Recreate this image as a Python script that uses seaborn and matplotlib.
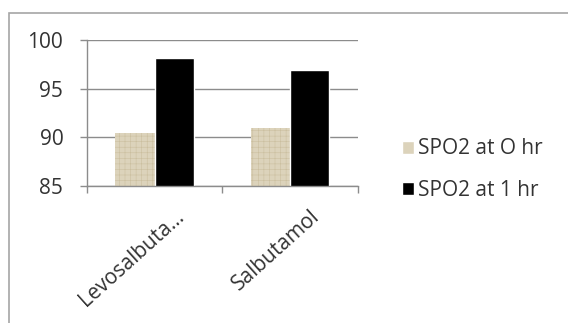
import matplotlib
matplotlib.use('Agg')
import matplotlib.pyplot as plt
import matplotlib.patches as mpatches
import matplotlib.transforms as mtransforms
import pandas as pd
import seaborn as sns

'''
Data read off the reference
'''
drugs = ['Levosalbuta...', 'Salbutamol']
series = ['SPO2 at O hr', 'SPO2 at 1 hr']
spo2_0hr = [90.4, 91.0]
spo2_1hr = [98.15, 96.9]
yTicks = [85, 90, 95, 100]

df = pd.DataFrame({
    'drug': drugs * 2,
    'series': [series[0]] * len(drugs) + [series[1]] * len(drugs),
    'value': spo2_0hr + spo2_1hr,
})

sns.set_style('white')
plt.rcParams['font.family'] = ['Open Sans', 'DejaVu Sans']
plt.rcParams['hatch.linewidth'] = 0.4

fig = plt.figure(figsize=(5.68, 3.23), dpi=100)
ax = fig.add_axes([0.153, 0.424, 0.477, 0.452])

sns.barplot(
    data = df,
    x = 'drug',
    y = 'value',
    hue = 'series',
    palette = ['#dcd3bb', '#000000'],
    width = 0.58,
    saturation = 1,
    errorbar = None,
    ax = ax
)

# beige bars get a faint checkered texture
for bar in ax.containers[0]:
    bar.set_hatch('+++')
    bar.set_edgecolor('#cbbf9f')
    bar.set_linewidth(0)

ax.set_ylim(85, 100)
ax.set_yticks(yTicks)
ax.set_xlim(-0.5, 1.5)
ax.yaxis.grid(True, color='#8c8c8c', linewidth=1)
ax.set_axisbelow(True)
ax.set_xlabel('')
ax.set_ylabel('')

for side in ['top', 'right']:
    ax.spines[side].set_visible(False)
for side in ['left', 'bottom']:
    ax.spines[side].set_color('#8c8c8c')
    ax.spines[side].set_linewidth(1)

ax.tick_params(axis='y', labelsize=15, colors='#8c8c8c', labelcolor='#333333',
               length=5, width=1, direction='out', left=True, pad=12)
ax.tick_params(axis='x', bottom=False)
# category divider ticks
ax.set_xticks([-0.5, 0.5, 1.5], minor=True)
ax.tick_params(axis='x', which='minor', bottom=True, length=5, width=1,
               colors='#8c8c8c', direction='out')

ax.set_xticks([0, 1])
ax.set_xticklabels(drugs, rotation=42, ha='right', rotation_mode='anchor',
                   fontsize=15, color='#333333')
offset = mtransforms.ScaledTranslation(20 / 100, -10 / 100, fig.dpi_scale_trans)
for lbl in ax.get_xticklabels():
    lbl.set_transform(lbl.get_transform() + offset)

handles, labels = ax.get_legend_handles_labels()
ax.legend(handles, labels, loc='center left', bbox_to_anchor=(0.674, 0.474),
          bbox_transform=fig.transFigure, frameon=False, fontsize=15,
          handlelength=0.58, handleheight=0.58, handletextpad=0.2,
          labelspacing=1.0, labelcolor='#333333')

# outer chart border (only top and left visible in the crop)
fig.add_artist(mpatches.Rectangle((9 / 568, -0.2), 1.2, 1.2 - 13 / 323,
                                  transform=fig.transFigure, fill=False,
                                  edgecolor='#a6a6a6', linewidth=1.2))

plt.savefig('out.png', dpi=100)
